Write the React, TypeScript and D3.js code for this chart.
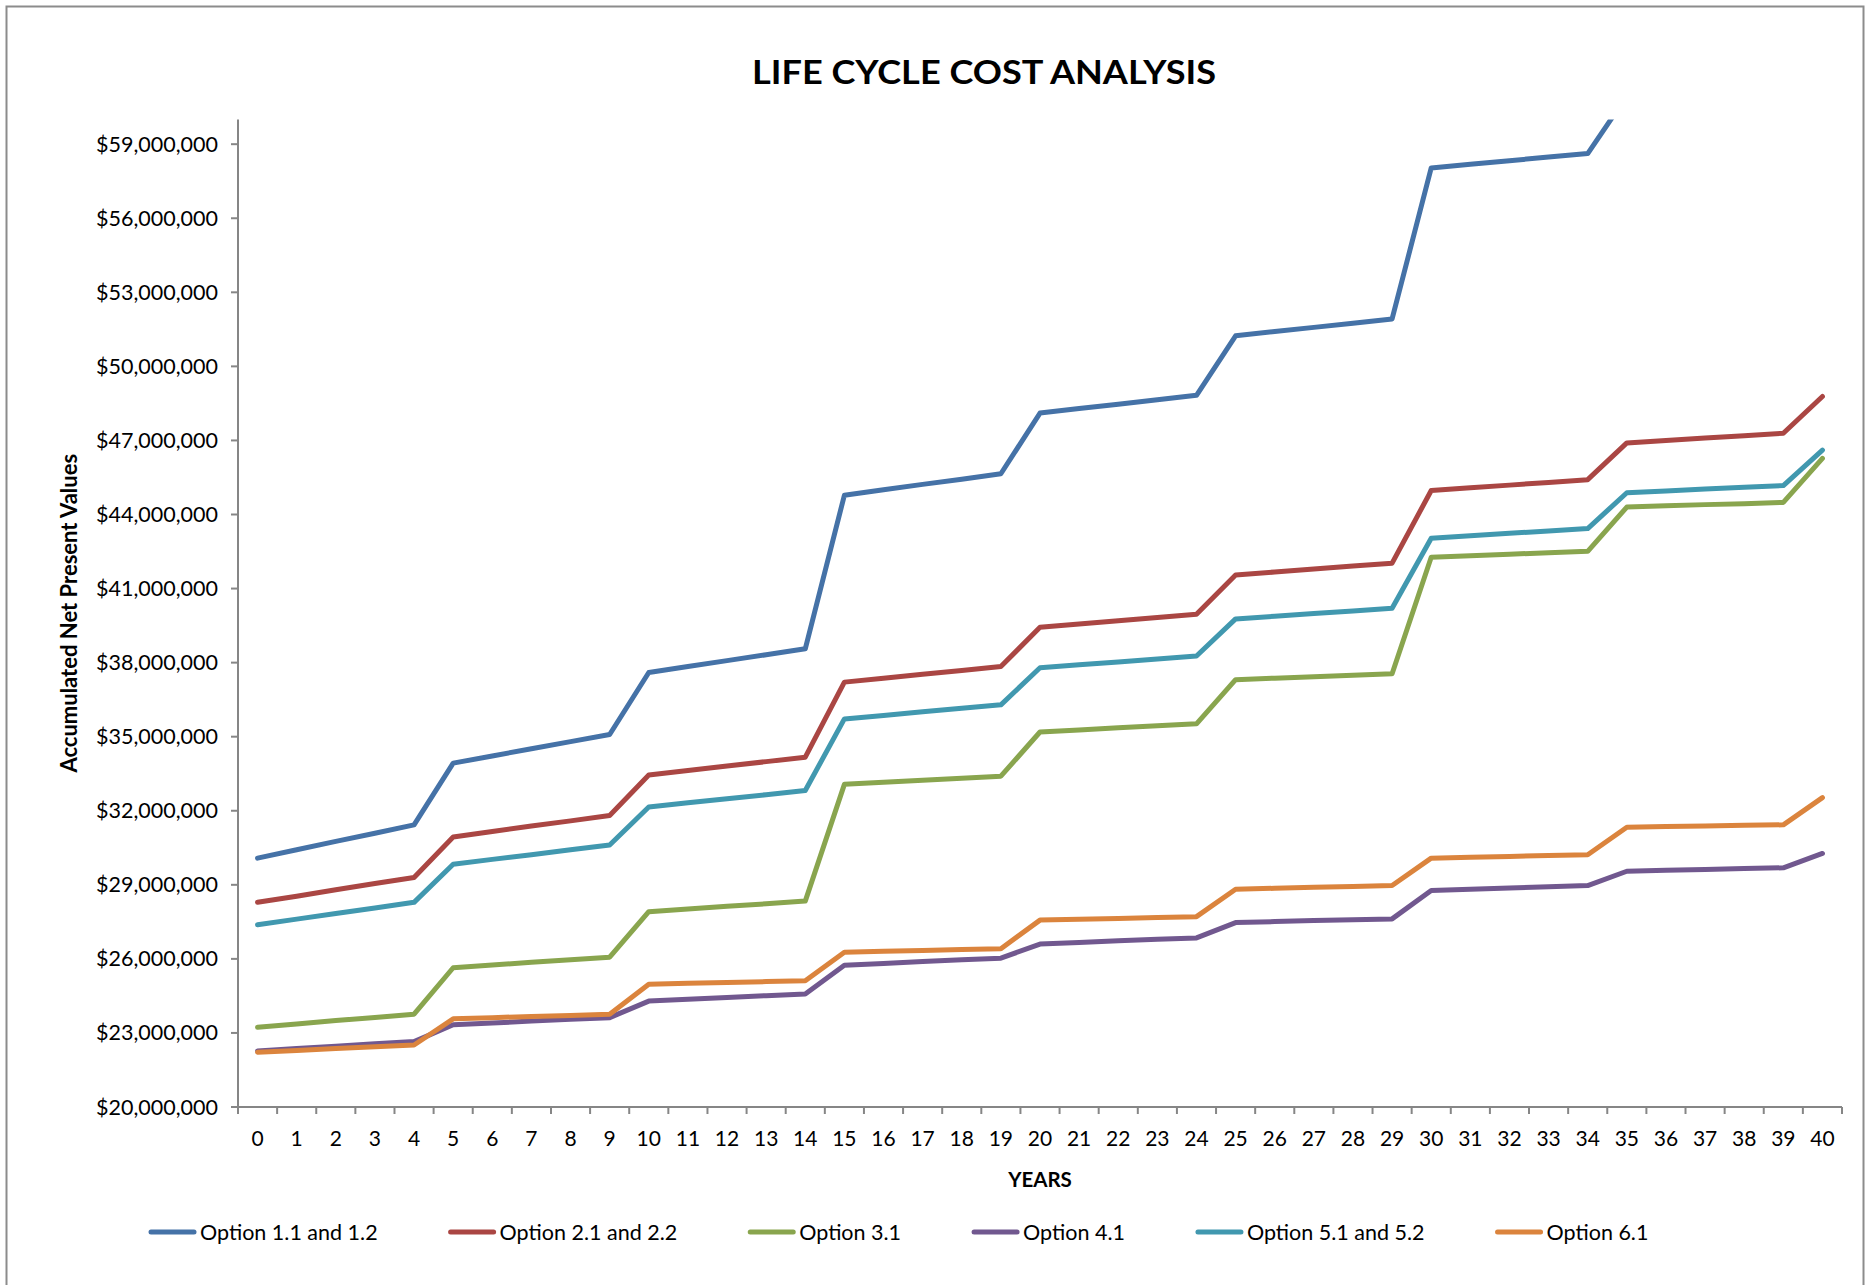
import React, { useLayoutEffect, useRef, useState } from "react";
import * as d3 from "d3";

const years: number[] = d3.range(0, 41);

const seriesNames: string[] = [
  "Option 1.1 and 1.2",
  "Option 2.1 and 2.2",
  "Option 3.1",
  "Option 4.1",
  "Option 5.1 and 5.2",
  "Option 6.1",
];

const seriesColors: string[] = ["#4572A7", "#AA4643", "#89A54E", "#71588F", "#4198AF", "#DB843D"];

// values in millions of dollars, years 0..40
const option1: number[] = [
  30.08, 30.42, 30.76, 31.09, 31.43,
  33.93, 34.22, 34.51, 34.8, 35.09,
  37.6, 37.84, 38.08, 38.32, 38.56,
  44.78, 45.0, 45.22, 45.43, 45.65,
  48.11, 48.29, 48.47, 48.65, 48.83,
  51.24, 51.41, 51.58, 51.75, 51.92,
  58.04, 58.19, 58.33, 58.48, 58.62,
  60.95, 61.08, 61.21, 61.34, 61.47,
  63.2,
];
const option2: number[] = [
  28.29, 28.54, 28.8, 29.05, 29.3,
  30.94, 31.16, 31.38, 31.59, 31.81,
  33.45, 33.63, 33.81, 33.99, 34.17,
  37.21, 37.37, 37.53, 37.68, 37.84,
  39.43, 39.56, 39.7, 39.83, 39.96,
  41.55, 41.67, 41.79, 41.91, 42.03,
  44.97, 45.08, 45.19, 45.3, 45.41,
  46.9, 47.0, 47.1, 47.19, 47.29,
  48.78,
];
const option3: number[] = [
  23.23, 23.36, 23.5, 23.63, 23.76,
  25.64, 25.75, 25.86, 25.96, 26.07,
  27.91, 28.02, 28.13, 28.23, 28.34,
  33.07, 33.15, 33.24, 33.32, 33.4,
  35.19, 35.27, 35.36, 35.44, 35.52,
  37.31, 37.37, 37.43, 37.49, 37.55,
  42.27, 42.33, 42.39, 42.45, 42.51,
  44.3, 44.35, 44.4, 44.44, 44.49,
  46.27,
];
const option4: number[] = [
  22.27, 22.37, 22.46, 22.56, 22.65,
  23.33, 23.4, 23.48, 23.55, 23.62,
  24.29, 24.36, 24.44, 24.51, 24.58,
  25.74, 25.81, 25.89, 25.96, 26.03,
  26.6, 26.66, 26.73, 26.79, 26.85,
  27.47, 27.51, 27.55, 27.58, 27.62,
  28.77, 28.82, 28.87, 28.92, 28.97,
  29.55, 29.59, 29.62, 29.66, 29.69,
  30.27,
];
const option5: number[] = [
  27.38, 27.61, 27.84, 28.06, 28.29,
  29.83, 30.03, 30.22, 30.42, 30.61,
  32.15, 32.32, 32.49, 32.65, 32.82,
  35.72, 35.86, 36.01, 36.15, 36.29,
  37.79, 37.91, 38.03, 38.15, 38.27,
  39.77, 39.88, 39.99, 40.09, 40.2,
  43.04, 43.14, 43.24, 43.33, 43.43,
  44.88, 44.95, 45.03, 45.1, 45.17,
  46.61,
];
const option6: number[] = [
  22.22, 22.29, 22.37, 22.44, 22.51,
  23.57, 23.62, 23.67, 23.71, 23.76,
  24.97, 25.01, 25.04, 25.08, 25.11,
  26.27, 26.31, 26.34, 26.38, 26.41,
  27.57, 27.61, 27.64, 27.68, 27.71,
  28.82, 28.86, 28.9, 28.93, 28.97,
  30.08, 30.12, 30.15, 30.19, 30.22,
  31.33, 31.36, 31.38, 31.41, 31.43,
  32.53,
];

const seriesValues: number[][] = [option1, option2, option3, option4, option5, option6];

const yTicks: number[] = d3.range(20e6, 60e6, 3e6);

const W = 1867;
const H = 1285;
const FONT = "Lato, 'Open Sans', sans-serif";

export default function App() {
  const margin = { left: 238, right: 25, top: 119.5, bottom: 178 };
  const x = d3
    .scaleBand<number>()
    .domain(years)
    .range([margin.left, W - margin.right]);
  const y = d3
    .scaleLinear()
    .domain([20e6, 60e6])
    .range([H - margin.bottom, margin.top]);
  const cx = (d: number) => (x(d) as number) + x.bandwidth() / 2;
  const line = d3
    .line<number>()
    .x((_, i) => cx(years[i]))
    .y((v) => y(v * 1e6));

  const fmt = (v: number) => "$" + d3.format(",")(v);
  const x0 = margin.left;
  const x1 = W - margin.right;
  const yBottom = y(20e6);
  const yTop = margin.top;

  const textRefs = useRef<(SVGTextElement | null)[]>([]);
  const [widths, setWidths] = useState<number[]>(seriesNames.map((n) => n.length * 10));
  useLayoutEffect(() => {
    const w = textRefs.current.map((t) => (t ? t.getComputedTextLength() : 0));
    setWidths(w);
  }, []);

  const legendY = 1232;
  const symW = 47;
  const gapSymText = 4;
  const itemGap = 71;
  const starts: number[] = [];
  let acc = 149;
  widths.forEach((w) => {
    starts.push(acc);
    acc += symW + gapSymText + w + itemGap;
  });

  return (
    <svg
      width={W}
      height={H}
      style={{ position: "absolute", left: 0, top: 0, display: "block", background: "#fff" }}
      fontFamily={FONT}
    >
      <rect x={0} y={0} width={W} height={H} fill="#fff" />
      <rect x={6.5} y={6.5} width={1857} height={1290} fill="none" stroke="#8c8c8c" strokeWidth={2} />
      <text
        x={(x0 + x1) / 2 - 56}
        y={84}
        textAnchor="middle"
        fontSize={33}
        fontWeight={700}
        fill="#000"
        textLength={464}
        lengthAdjust="spacingAndGlyphs"
      >
        LIFE CYCLE COST ANALYSIS
      </text>

      <defs>
        <clipPath id="plot">
          <rect x={x0} y={yTop} width={x1 - x0} height={yBottom - yTop} />
        </clipPath>
      </defs>

      {/* y axis */}
      <line x1={x0} x2={x0} y1={yTop} y2={yBottom} stroke="#868686" strokeWidth={2} />
      {yTicks.map((t) => (
        <g key={t}>
          <line x1={x0 - 7} x2={x0} y1={y(t)} y2={y(t)} stroke="#868686" strokeWidth={2} />
          <text
            x={x0 - 20}
            y={y(t)}
            dy="0.35em"
            textAnchor="end"
            fontSize={21.5}
            fill="#000"
          >
            {fmt(t)}
          </text>
        </g>
      ))}

      {/* x axis */}
      <line x1={x0} x2={x1} y1={yBottom} y2={yBottom} stroke="#868686" strokeWidth={2} />
      {years.map((d) => (
        <line
          key={"t" + d}
          x1={x(d) as number}
          x2={x(d) as number}
          y1={yBottom}
          y2={yBottom + 7}
          stroke="#868686"
          strokeWidth={2}
        />
      ))}
      <line x1={x1} x2={x1} y1={yBottom} y2={yBottom + 7} stroke="#868686" strokeWidth={2} />
      {years.map((d) => (
        <text key={"l" + d} x={cx(d)} y={1139} dy="0.35em" textAnchor="middle" fontSize={21} fill="#000">
          {d}
        </text>
      ))}

      <text x={(x0 + x1) / 2} y={1180} dy="0.35em" textAnchor="middle" fontSize={20.5} fontWeight={700} fill="#000">
        YEARS
      </text>
      <text
        transform={`translate(69, ${(yTop + yBottom) / 2}) rotate(-90)`}
        textAnchor="middle"
        dy="0.35em"
        fontSize={22}
        fontWeight={700}
        fill="#000"
      >
        Accumulated Net Present Values
      </text>

      <g clipPath="url(#plot)">
        {seriesValues.map((vals, i) => (
          <path
            key={seriesNames[i]}
            d={line(vals) || ""}
            fill="none"
            stroke={seriesColors[i]}
            strokeWidth={5}
            strokeLinejoin="round"
            strokeLinecap="round"
          />
        ))}
      </g>

      {seriesNames.map((n, i) => (
        <g key={"lg" + n}>
          <line
            x1={starts[i] + 2}
            x2={starts[i] + symW - 2}
            y1={legendY}
            y2={legendY}
            stroke={seriesColors[i]}
            strokeWidth={5}
            strokeLinecap="round"
          />
          <text
            ref={(el) => {
              textRefs.current[i] = el;
            }}
            x={starts[i] + symW + gapSymText}
            y={legendY}
            dy="0.35em"
            fontSize={21.5}
            fill="#000"
          >
            {n}
          </text>
        </g>
      ))}
    </svg>
  );
}
